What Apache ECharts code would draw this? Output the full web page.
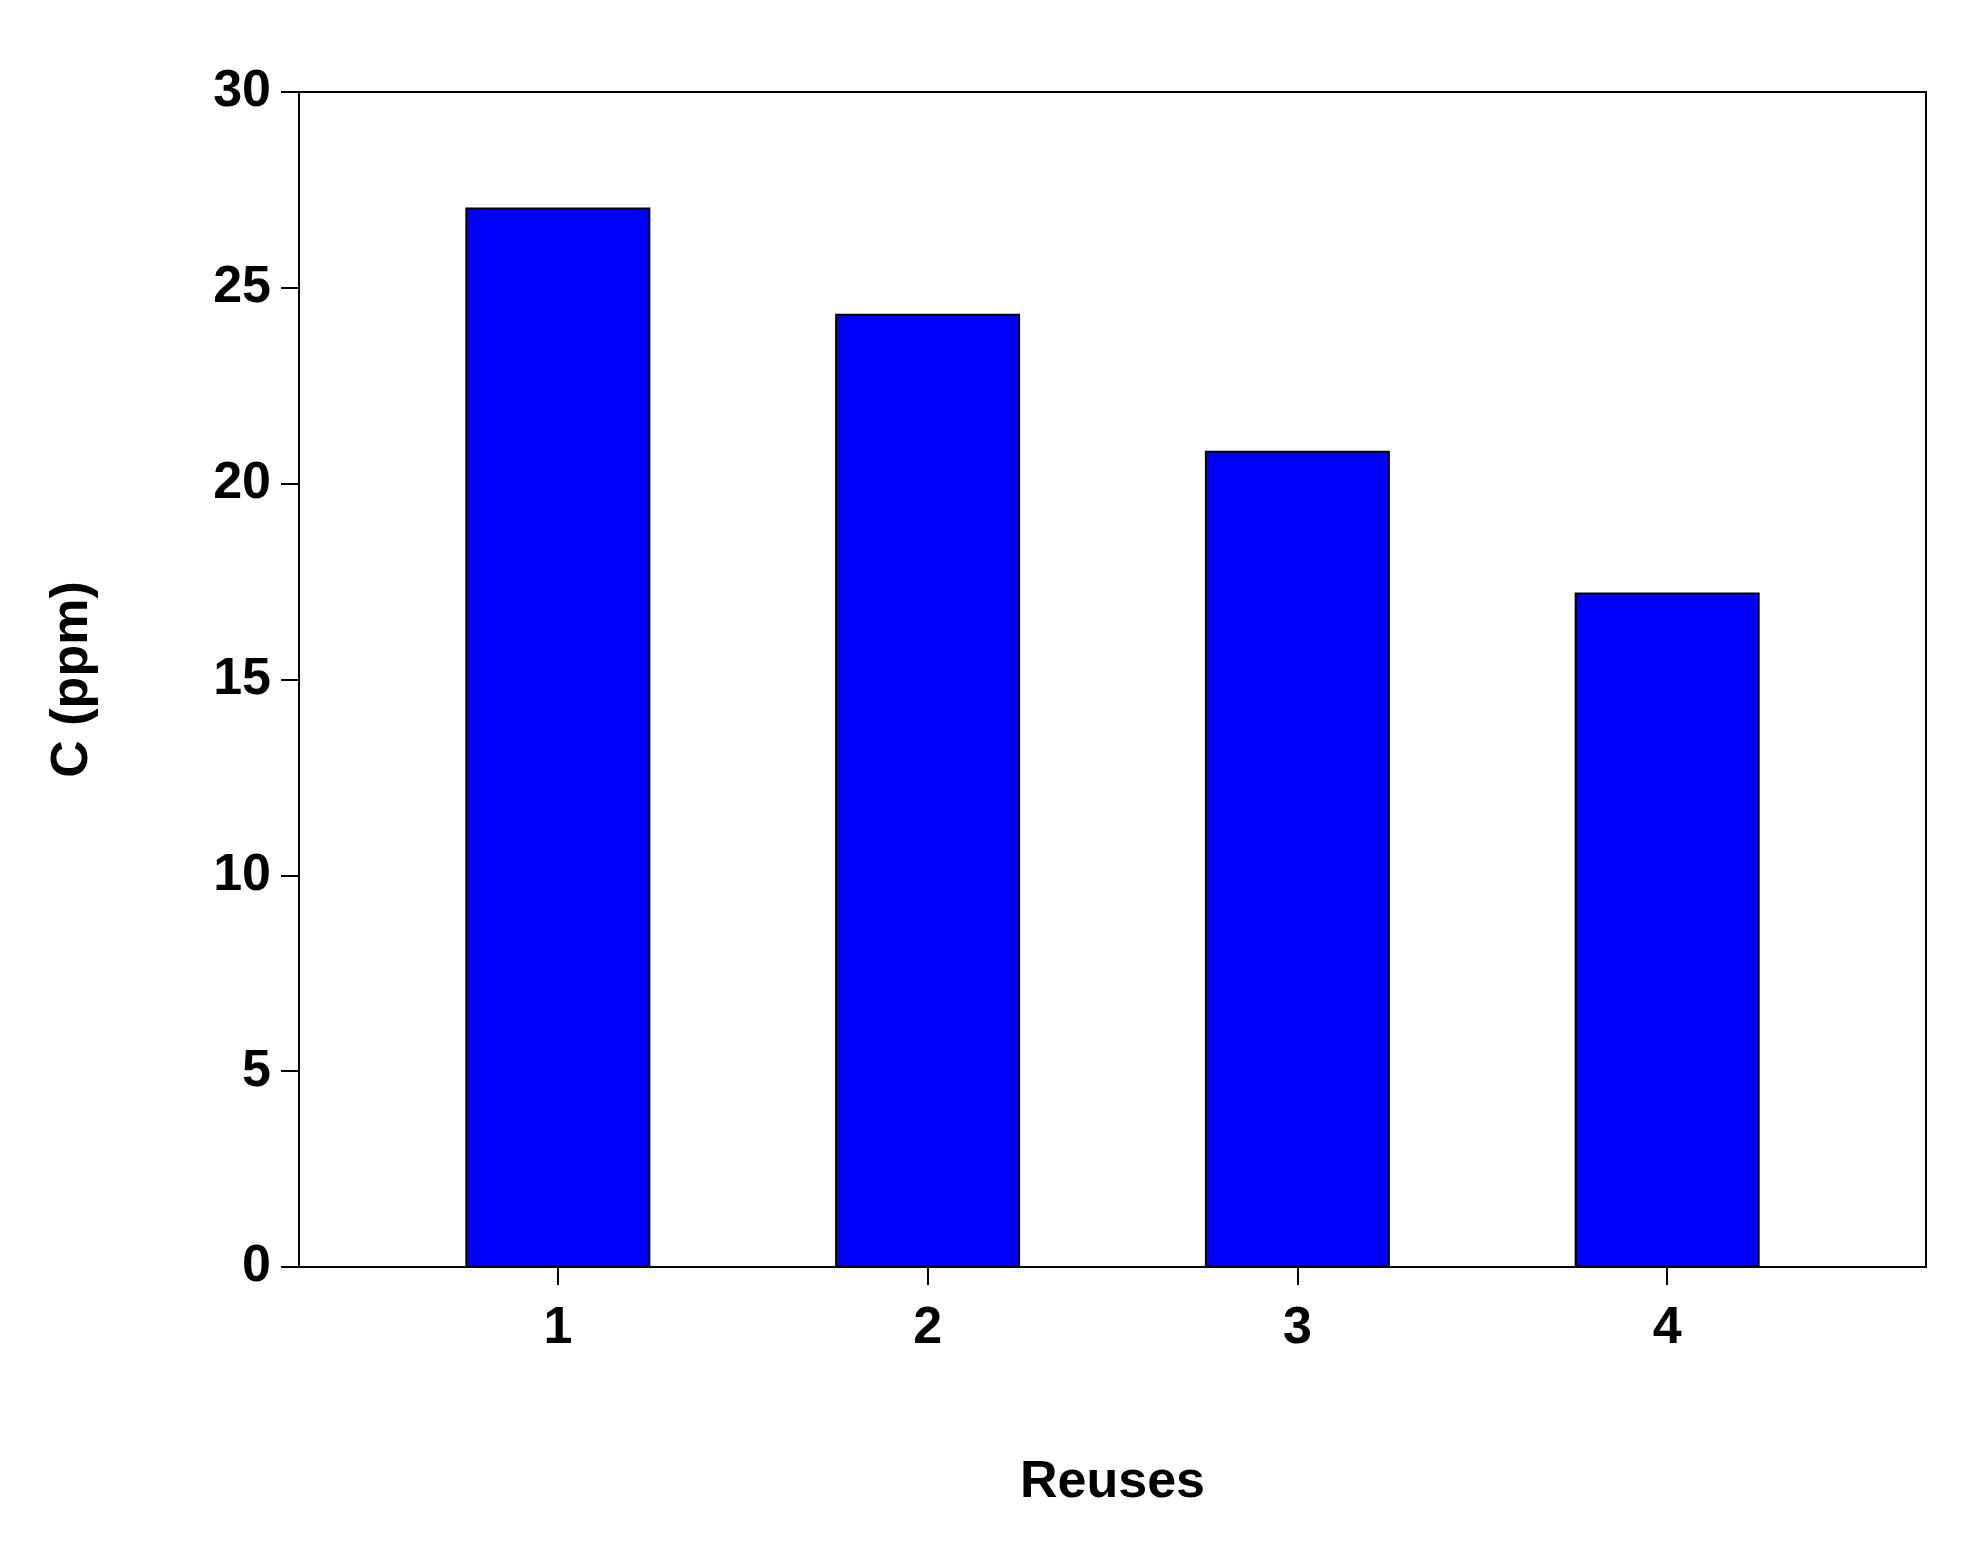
<!DOCTYPE html>
<html>
<head>
<meta charset="utf-8">
<script src="https://cdn.jsdelivr.net/npm/echarts@6/dist/echarts.min.js"></script>
<style>html,body{margin:0;padding:0;background:#fff}#main{width:1977px;height:1543px}</style>
</head>
<body>
<div id="main"></div>
<script>
const reuses = [1, 2, 3, 4];
const concentration = [27.05, 24.34, 20.84, 17.22];
const yTicks = [0, 5, 10, 15, 20, 25, 30];

const chartDom = document.getElementById('main');
const myChart = echarts.init(chartDom);
const font = { fontFamily: 'Liberation Sans', fontWeight: 'bold', fontSize: 52, color: '#000' };

const option = {
    backgroundColor: '#fff',
    animation: false,
    grid: { left: 299, top: 92, width: 1627, height: 1175, show: true, borderColor: '#000', borderWidth: 2 },
    xAxis: {
        type: 'value', min: 0.3, max: 4.7,
        name: 'Reuses', nameLocation: 'middle', nameGap: 190, nameTextStyle: font,
        axisLine: { lineStyle: { color: '#000', width: 2 } },
        axisTick: { show: true, customValues: reuses, length: 18, lineStyle: { color: '#000', width: 2 } },
        axisLabel: Object.assign({ customValues: reuses, margin: 36 }, font),
        splitLine: { show: false }
    },
    yAxis: {
        type: 'value', min: 0, max: 30, interval: 5,
        name: 'C (ppm)', nameLocation: 'middle', nameGap: 200, nameTextStyle: font,
        axisLine: { show: true, lineStyle: { color: '#000', width: 2 } },
        axisTick: { show: true, length: 18, lineStyle: { color: '#000', width: 2 } },
        axisLabel: Object.assign({ margin: 28, customValues: yTicks }, font),
        splitLine: { show: false }
    },
    series: [{
        type: 'bar',
        barWidth: 185,
        data: reuses.map((r, i) => [r, concentration[i]]),
        itemStyle: { color: '#0000ff', borderColor: '#000', borderWidth: 2 }
    }]
};

option && myChart.setOption(option);
</script>
</body>
</html>
